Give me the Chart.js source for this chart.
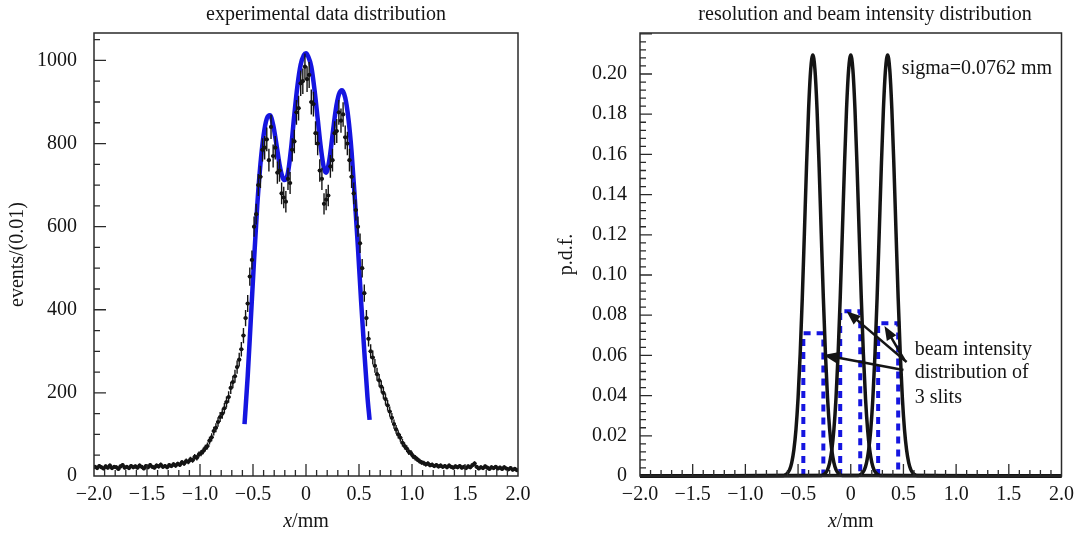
<!DOCTYPE html>
<html>
<head>
<meta charset="utf-8">
<script src="https://cdn.jsdelivr.net/npm/chart.js@4.4.1/dist/chart.umd.min.js"></script>
<style>
  body { margin: 0; background: #fff; }
  #wrap { display: flex; width: 1081px; height: 537px; }
  canvas { display: block; }
</style>
</head>
<body>
<div id="wrap">
  <canvas id="dist" width="540" height="537"></canvas>
  <canvas id="pdf" width="541" height="537"></canvas>
</div>
<script>
'use strict';

// left panel: measured events, histogram bins of 0.02 mm starting at -2.0
const binLow = -2.0;
const binWidth = 0.02;
const eventCounts = [
    22, 19, 24, 21, 18, 23, 20, 25, 19, 22,
    21, 17, 23, 26, 20, 22, 19, 24, 21, 23,
    20, 25, 22, 18, 24, 21, 26, 22, 20, 25,
    23, 27, 22, 24, 21, 26, 24, 28, 25, 29,
    27, 33, 30, 36, 34, 40, 38, 46, 44, 52,
    55, 60, 67, 72, 85, 93, 108, 116, 130, 142,
    150, 163, 178, 190, 212, 226, 240, 262, 280, 305,
    338, 380, 415, 480, 520, 600, 630, 700, 720, 785,
    790, 810, 760, 840, 770, 790, 730, 735, 680, 670,
    660, 715, 705, 785, 805, 875, 885, 945, 950, 985,
    955, 965, 900, 895, 825, 800, 735, 715, 655, 665,
    675, 745, 760, 825, 830, 875, 855, 870, 815, 800,
    760, 720, 680, 640, 600, 560, 500, 440, 380, 330,
    300, 285, 265, 245, 230, 215, 200, 185, 170, 155,
    140, 125, 112, 100, 92, 80, 72, 66, 58, 55,
    48, 44, 40, 36, 33, 31, 28, 30, 26, 27,
    24, 26, 23, 25, 22, 24, 21, 25, 22, 20,
    23, 21, 24, 20, 22, 19, 23, 21, 26, 30,
    22, 18, 21, 19, 23, 20, 17, 21, 19, 22,
    18, 20, 17, 21, 18, 16, 19, 15, 17, 14];

// fitted curve (blue)
const fitX = [-0.58, -0.55, -0.52, -0.49, -0.46, -0.43, -0.40, -0.37, -0.34, -0.31,
    -0.28, -0.25, -0.22, -0.20, -0.17, -0.14, -0.11, -0.08, -0.05, -0.02,
    0, 0.02, 0.05, 0.08, 0.11, 0.14, 0.17, 0.19, 0.22, 0.25,
    0.28, 0.31, 0.34, 0.37, 0.40, 0.43, 0.46, 0.49, 0.52, 0.55,
    0.58, 0.60];
const fitY = [125, 240, 380, 520, 650, 750, 820, 860, 868, 845,
    800, 750, 718, 712, 730, 790, 870, 940, 990, 1013,
    1017, 1010, 985, 930, 860, 790, 740, 730, 760, 820,
    880, 918, 928, 910, 860, 780, 670, 550, 420, 300,
    190, 135];

// right panel: resolution function around each slit centre
const slitCentres = [-0.36, 0, 0.35];
const resOffsets = [-0.28, -0.26, -0.24, -0.22, -0.20, -0.18, -0.16, -0.14, -0.12, -0.10,
    -0.08, -0.06, -0.04, -0.02, 0, 0.02, 0.04, 0.06, 0.08, 0.10,
    0.12, 0.14, 0.16, 0.18, 0.20, 0.22, 0.24, 0.26, 0.28];
const resValues = [0.0002, 0.0006, 0.0015, 0.0032, 0.0067, 0.0129, 0.0231, 0.0387, 0.0606, 0.0885,
    0.1207, 0.1536, 0.1825, 0.2023, 0.2094, 0.2023, 0.1825, 0.1536, 0.1207, 0.0885,
    0.0606, 0.0387, 0.0231, 0.0129, 0.0067, 0.0032, 0.0015, 0.0006, 0.0002];

// beam intensity of the 3 slits (dashed boxes)
const slitLow = [-0.45, -0.10, 0.26];
const slitHigh = [-0.26, 0.09, 0.45];
const slitHeight = [0.071, 0.082, 0.076];

// arrows pointing at the boxes, [x, y] in data units
const arrowTails = [[0.50, 0.0527], [0.53, 0.0567], [0.51, 0.0577]];
const arrowHeads = [[-0.26, 0.0602], [-0.04, 0.0820], [0.32, 0.0746]];

const xTicks = [-2, -1.5, -1, -0.5, 0, 0.5, 1, 1.5, 2];
const xTickLabels = ['\u22122.0', '\u22121.5', '\u22121.0', '\u22120.5', '0', '0.5', '1.0', '1.5', '2.0'];
const eventTicks = [0, 200, 400, 600, 800, 1000];
const eventTickLabels = ['0', '200', '400', '600', '800', '1000'];
const pdfTicks = [0, 0.02, 0.04, 0.06, 0.08, 0.10, 0.12, 0.14, 0.16, 0.18, 0.20];
const pdfTickLabels = ['0', '0.02', '0.04', '0.06', '0.08', '0.10', '0.12', '0.14', '0.16', '0.18', '0.20'];

const FAMILY = '"Liberation Serif", "Times New Roman", serif';
const font = { family: FAMILY, size: 20, lineHeight: 1.2 };
const INK = '#141414';
const BLUE = '#1515e0';

// frame, inward ticks, titles
const framePlugin = {
    id: 'frame',
    afterDraw(chart, args, opts) {
        const { ctx, chartArea: a, scales: { x, y } } = chart;
        ctx.save();
        ctx.strokeStyle = '#2a2a2a';
        ctx.lineWidth = 1.5;
        ctx.strokeRect(a.left, a.top, a.right - a.left, a.bottom - a.top);

        ctx.lineWidth = 1.3;
        ctx.beginPath();
        let n = Math.round((x.max - x.min) / opts.xMinor);
        for (let i = 1; i < n; i++) {
            const v = x.min + i * opts.xMinor;
            const major = Math.abs(v / 0.5 - Math.round(v / 0.5)) < 1e-6;
            const px = x.getPixelForValue(v);
            ctx.moveTo(px, a.bottom);
            ctx.lineTo(px, a.bottom - (major ? 12 : 6));
        }
        n = Math.floor(y.max / opts.yMinor + 1e-6);
        for (let i = 1; i <= n; i++) {
            const v = i * opts.yMinor;
            const major = Math.abs(v / opts.yMajor - Math.round(v / opts.yMajor)) < 1e-6;
            const py = y.getPixelForValue(v);
            ctx.moveTo(a.left, py);
            ctx.lineTo(a.left + (major ? 12 : 6), py);
        }
        ctx.stroke();

        ctx.fillStyle = INK;
        ctx.font = '20px ' + FAMILY;
        ctx.textBaseline = 'middle';
        ctx.textAlign = 'center';
        ctx.fillText(opts.title, opts.titleX, 15);

        // "x/mm" with an italic x
        ctx.textAlign = 'left';
        ctx.font = 'italic 20px ' + FAMILY;
        const wx = ctx.measureText('x').width;
        ctx.font = '20px ' + FAMILY;
        const wu = ctx.measureText('/mm').width;
        const cx = (a.left + a.right) / 2 - (wx + wu) / 2;
        ctx.font = 'italic 20px ' + FAMILY;
        ctx.fillText('x', cx, 522);
        ctx.font = '20px ' + FAMILY;
        ctx.fillText('/mm', cx + wx, 522);
        ctx.restore();
    }
};

const errorBars = {
    id: 'errorBars',
    afterDatasetsDraw(chart) {
        const { ctx, chartArea: a, scales: { x, y } } = chart;
        ctx.save();
        ctx.beginPath();
        ctx.rect(a.left, a.top, a.right - a.left, a.bottom - a.top);
        ctx.clip();
        ctx.strokeStyle = INK;
        ctx.lineWidth = 1.4;
        ctx.beginPath();
        chart.data.datasets[0].data.forEach(p => {
            const e = Math.sqrt(p.y);
            const px = x.getPixelForValue(p.x);
            const py = y.getPixelForValue(p.y);
            ctx.moveTo(px, y.getPixelForValue(p.y - e));
            ctx.lineTo(px, y.getPixelForValue(p.y + e));
            ctx.moveTo(px - 2, py);
            ctx.lineTo(px + 2, py);
        });
        ctx.stroke();
        ctx.restore();
    }
};

const notes = {
    id: 'notes',
    afterDatasetsDraw(chart, args, opts) {
        const { ctx, scales: { x, y } } = chart;
        ctx.save();
        ctx.fillStyle = INK;
        ctx.strokeStyle = INK;
        ctx.font = '20px ' + FAMILY;
        ctx.textAlign = 'left';
        ctx.textBaseline = 'middle';
        opts.texts.forEach(t => {
            ctx.fillText(t.text, x.getPixelForValue(t.x), y.getPixelForValue(t.y));
        });
        ctx.lineWidth = 2.5;
        arrowTails.forEach((tail, i) => {
            const x1 = x.getPixelForValue(tail[0]), y1 = y.getPixelForValue(tail[1]);
            const x2 = x.getPixelForValue(arrowHeads[i][0]), y2 = y.getPixelForValue(arrowHeads[i][1]);
            const ang = Math.atan2(y2 - y1, x2 - x1);
            const c = Math.cos(ang), s = Math.sin(ang);
            const len = 14, half = 5.5;
            ctx.beginPath();
            ctx.moveTo(x1, y1);
            ctx.lineTo(x2 - c * len * 0.8, y2 - s * len * 0.8);
            ctx.stroke();
            ctx.beginPath();
            ctx.moveTo(x2, y2);
            ctx.lineTo(x2 - c * len + s * half, y2 - s * len - c * half);
            ctx.lineTo(x2 - c * len - s * half, y2 - s * len + c * half);
            ctx.closePath();
            ctx.fill();
        });
        ctx.restore();
    }
};

function xScale() {
    return {
        type: 'linear',
        min: -2, max: 2,
        grid: { display: false, drawTicks: false },
        border: { display: false },
        afterBuildTicks: s => { s.ticks = xTicks.map(v => ({ value: v })); },
        afterFit: s => { s.height = 61; },
        ticks: {
            font, color: INK, padding: 7, maxRotation: 0, autoSkip: false,
            callback: (v, i) => xTickLabels[i],
        },
    };
}

// ---------- left chart ----------
const points = eventCounts.map((c, i) => ({ x: binLow + binWidth * (i + 0.5), y: c }));

new Chart(document.getElementById('dist'), {
    type: 'scatter',
    data: {
        datasets: [
            {
                data: points,
                pointRadius: 2.1,
                pointBackgroundColor: INK,
                pointBorderWidth: 0,
                order: 0,
            },
            {
                data: fitX.map((v, i) => ({ x: v, y: fitY[i] })),
                showLine: true,
                borderColor: BLUE,
                borderWidth: 4.5,
                pointRadius: 0,
                cubicInterpolationMode: 'monotone',
                order: 1,
            }],
    },
    options: {
        responsive: false,
        animation: false,
        devicePixelRatio: 1,
        layout: { padding: { top: 33, right: 22, bottom: 0, left: 0 } },
        plugins: {
            legend: { display: false },
            tooltip: { enabled: false },
            frame: { xMinor: 0.1, yMinor: 50, yMajor: 200, title: 'experimental data distribution', titleX: 326 },
        },
        scales: {
            x: xScale(),
            y: {
                type: 'linear',
                min: 0, max: 1066,
                grid: { display: false, drawTicks: false },
                border: { display: false },
                afterBuildTicks: s => { s.ticks = eventTicks.map(v => ({ value: v })); },
                afterFit: s => { s.width = 94; },
                ticks: { font, color: INK, padding: 17, callback: (v, i) => eventTickLabels[i] },
                title: { display: true, text: 'events/(0.01)', font, color: INK, padding: { top: 6, bottom: 0 } },
            },
        },
    },
    plugins: [framePlugin, errorBars],
});

// ---------- right chart ----------
const curveSets = slitCentres.map(c => ({
    data: [{ x: -2, y: 0 }]
        .concat(resOffsets.map((o, i) => ({ x: c + o, y: resValues[i] })))
        .concat([{ x: 2, y: 0 }]),
    showLine: true,
    borderColor: INK,
    borderWidth: 3.5,
    pointRadius: 0,
    cubicInterpolationMode: 'monotone',
    clip: 6,
    order: 0,
}));

const slitSets = slitLow.map((lo, i) => ({
    data: [{ x: lo, y: 0 }, { x: lo, y: slitHeight[i] }, { x: slitHigh[i], y: slitHeight[i] }, { x: slitHigh[i], y: 0 }],
    showLine: true,
    borderColor: BLUE,
    borderWidth: 4,
    borderDash: [7, 6],
    pointRadius: 0,
    tension: 0,
    clip: 6,
    order: 1,
}));

new Chart(document.getElementById('pdf'), {
    type: 'scatter',
    data: { datasets: curveSets.concat(slitSets) },
    options: {
        responsive: false,
        animation: false,
        devicePixelRatio: 1,
        layout: { padding: { top: 33, right: 16, bottom: 0, left: 0 } },
        plugins: {
            legend: { display: false },
            tooltip: { enabled: false },
            frame: { xMinor: 0.1, yMinor: 0.004, yMajor: 0.02, title: 'resolution and beam intensity distribution', titleX: 325 },
            notes: {
                texts: [
                    { text: 'sigma=0.0762 mm', x: 0.485, y: 0.2025 },
                    { text: 'beam intensity', x: 0.607, y: 0.0627 },
                    { text: 'distribution of', x: 0.607, y: 0.0512 },
                    { text: '3 slits', x: 0.607, y: 0.0388 },
                ],
            },
        },
        scales: {
            x: xScale(),
            y: {
                type: 'linear',
                min: 0, max: 0.2204,
                grid: { display: false, drawTicks: false },
                border: { display: false },
                afterBuildTicks: s => { s.ticks = pdfTicks.map(v => ({ value: v })); },
                afterFit: s => { s.width = 100; },
                ticks: { font, color: INK, padding: 13, callback: (v, i) => pdfTickLabels[i] },
                title: { display: true, text: 'p.d.f.', font, color: INK, padding: { top: 15, bottom: 0 } },
            },
        },
    },
    plugins: [framePlugin, notes],
});
</script>
</body>
</html>
